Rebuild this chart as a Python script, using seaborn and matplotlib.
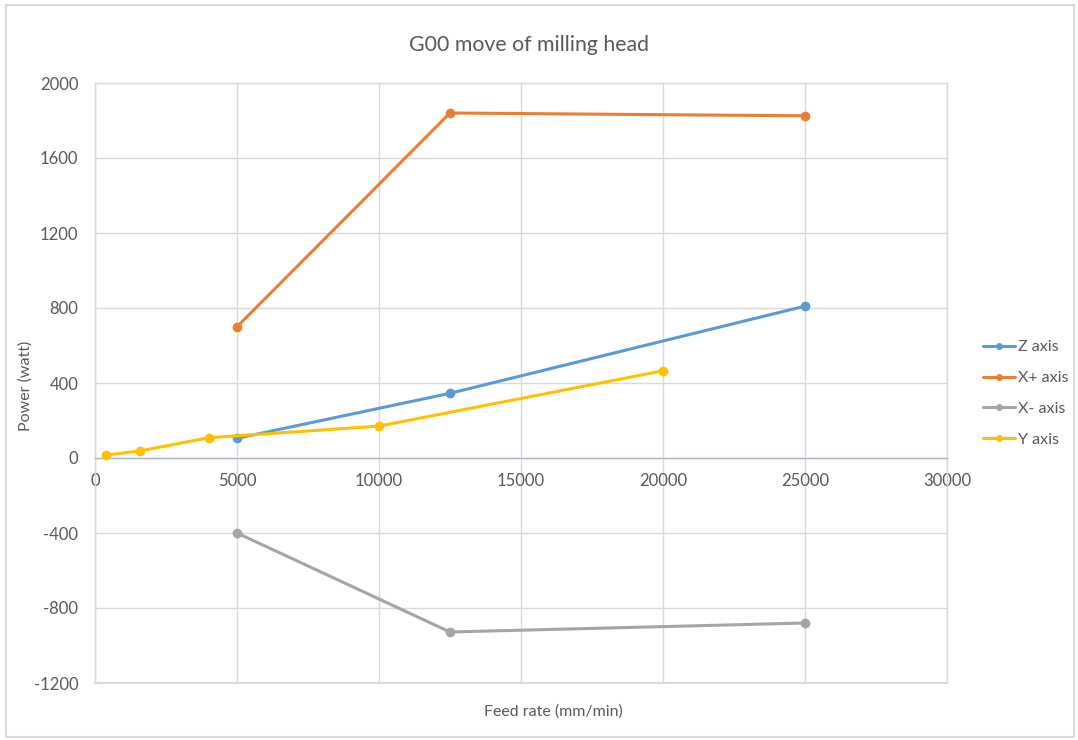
import matplotlib
matplotlib.use("Agg")
import matplotlib.pyplot as plt
import seaborn as sns
import pandas as pd
from matplotlib.patches import Rectangle

# Feed rate (mm/min) and measured power (watt) for each axis move
z_feed = [5000, 12500, 25000]
z_power = [105, 345, 810]

xplus_feed = [5000, 12500, 25000]
xplus_power = [700, 1840, 1825]

xminus_feed = [5000, 12500, 25000]
xminus_power = [-400, -928, -880]

y_feed = [400, 1600, 4000, 10000, 20000]
y_power = [16, 38, 108, 170, 465]

series_names = ["Z axis", "X+ axis", "X- axis", "Y axis"]
series_colors = ["#5B9BD5", "#ED7D31", "#A5A5A5", "#FFC000"]

x_ticks = [0, 5000, 10000, 15000, 20000, 25000, 30000]
y_ticks = [-1200, -800, -400, 0, 400, 800, 1200, 1600, 2000]

sns.set_theme(style="white")
plt.rcParams["font.family"] = ["Lato", "DejaVu Sans"]

text_color = "#595959"
grid_color = "#D9D9D9"

frames = []
for name, fx, py in zip(series_names,
                        [z_feed, xplus_feed, xminus_feed, y_feed],
                        [z_power, xplus_power, xminus_power, y_power]):
    frames.append(pd.DataFrame({"feed": fx, "power": py, "series": name}))
df = pd.concat(frames, ignore_index=True)

W, H = 1078, 740
fig = plt.figure(figsize=(W / 100, H / 100), dpi=100)
ax = fig.add_axes([95 / W, 1 - 683 / H, (947 - 95) / W, (683 - 83) / H])

sns.lineplot(data=df, x="feed", y="power", hue="series",
             hue_order=series_names, palette=series_colors,
             marker="o", markersize=7, markeredgewidth=0,
             linewidth=2.2, ax=ax, sort=False, legend=False, zorder=3)

ax.set_xlim(0, 30000)
ax.set_ylim(-1200, 2000)
ax.set_xticks(x_ticks)
ax.set_yticks(y_ticks)
ax.set_xticklabels([str(v) for v in x_ticks])
ax.set_yticklabels([str(v) for v in y_ticks])
ax.grid(True, color=grid_color, linewidth=1.0, zorder=0)
ax.set_axisbelow(True)

for side in ["left", "right", "top"]:
    ax.spines[side].set_visible(True)
    ax.spines[side].set_color(grid_color)
    ax.spines[side].set_linewidth(1.0)
ax.spines["bottom"].set_position(("data", 0))
ax.spines["bottom"].set_color("#A9B7C9")
ax.spines["bottom"].set_linewidth(1.0)
ax.axhline(-1200, color=grid_color, linewidth=1.5, zorder=1, clip_on=False)

ax.tick_params(axis="x", length=0, pad=11, labelsize=12, labelcolor=text_color)
ax.tick_params(axis="y", length=0, pad=12, labelsize=12, labelcolor=text_color)

ax.set_xlabel("")
ax.set_ylabel("")

fig.text(529 / W, 1 - 45 / H, "G00 move of milling head", ha="center",
         va="center", fontsize=15.3, color=text_color)
fig.text(553 / W, 1 - 712 / H, "Feed rate (mm/min)", ha="center",
         va="center", fontsize=11.5, color=text_color)
fig.text(26 / W, 1 - 386 / H, "Power (watt)", ha="center", va="center",
         rotation=90, fontsize=11.5, color=text_color)

handles = [plt.Line2D([], [], color=c, linewidth=2.2, marker="o",
                      markersize=5, markeredgewidth=0) for c in series_colors]
leg = fig.legend(handles, series_names, loc="center left",
                 bbox_to_anchor=(983 / W, 1 - 393.5 / H), frameon=False,
                 fontsize=11.5, handlelength=2.0, handletextpad=0.2,
                 labelspacing=1.05, numpoints=1, borderpad=0,
                 borderaxespad=0)
for t in leg.get_texts():
    t.set_color(text_color)

fig.patches.append(Rectangle((6 / W, 1 - 737 / H), (1074 - 6) / W,
                             (737 - 5) / H, transform=fig.transFigure,
                             fill=False, edgecolor=grid_color, linewidth=1.5))

fig.savefig("out.png", dpi=100, facecolor="white")
